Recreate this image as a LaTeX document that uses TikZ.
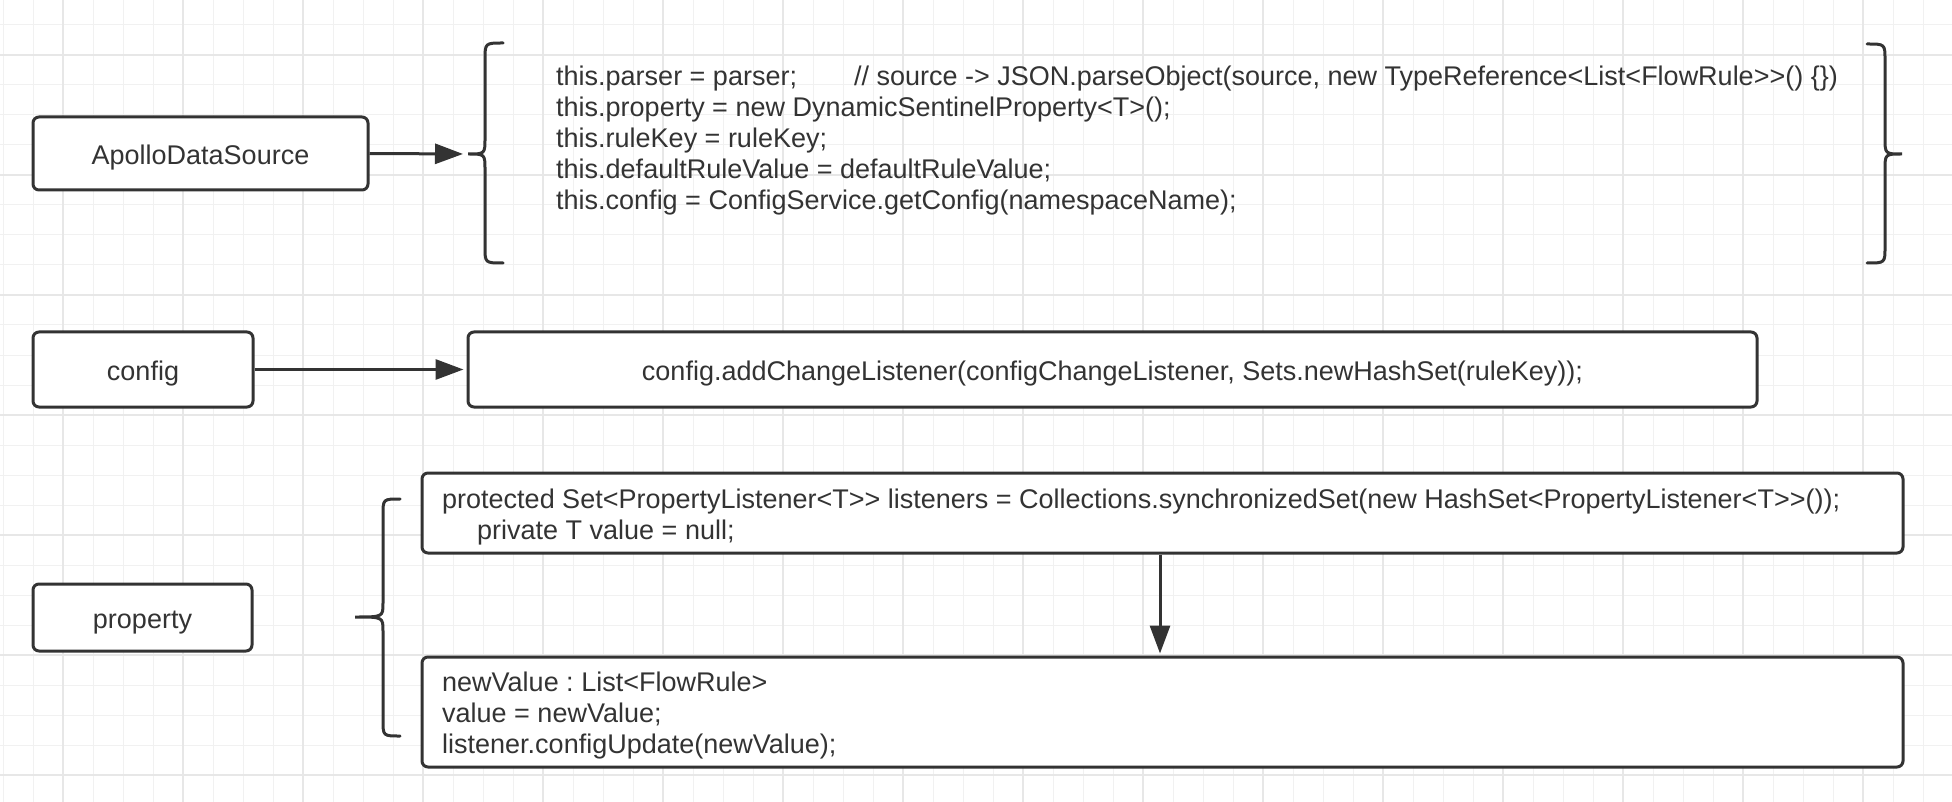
\documentclass[tikz,border=0pt]{standalone}
\usepackage{fontspec}
\setmainfont{Liberation Sans}
\usetikzlibrary{arrows.meta}
\definecolor{dark}{HTML}{333333}
\definecolor{gridminor}{HTML}{F1F1F1}
\definecolor{gridmajor}{HTML}{E7E7E7}
\newcommand{\gtgt}{>\kern0pt>}
\frenchspacing
\begin{document}
\begin{tikzpicture}[x=1pt,y=-1pt,
  minorline/.style={draw=gridminor,line width=1pt},
  majorline/.style={draw=gridmajor,line width=1.4pt},
  box/.style={draw=dark,line width=3pt,rounded corners=6pt,fill=white,inner sep=0pt,
    font=\fontsize{27}{31}\selectfont,text=dark,text height=27pt,text depth=5pt},
  codetext/.style={inner sep=0pt,align=left,font=\fontsize{27}{31}\selectfont,text=dark},
  bracepath/.style={draw=dark,line width=3pt,line cap=round},
  arr/.style={draw=dark,line width=3pt,-{Triangle[length=28pt,width=20pt]}}]
\useasboundingbox (0,0) rectangle (1952,802);
\fill[white] (0,0) rectangle (1952,802);
% grid
\foreach \i in {0,...,65} \draw[minorline] ({3+30*\i},0) -- ({3+30*\i},802);
\foreach \j in {0,...,26} \draw[minorline] (0,{25+30*\j}) -- (1952,{25+30*\j});
\foreach \i in {0,...,16} \draw[majorline] ({63+120*\i},0) -- ({63+120*\i},802);
\foreach \j in {0,...,6} \draw[majorline] (0,{55+120*\j}) -- (1952,{55+120*\j});

% row 1
\node[box,minimum width=335pt,minimum height=73pt] (ads) at (200.5,153.5) {ApolloDataSource};
\coordinate (b1tip) at (468,154);
\draw[bracepath] (503,43) .. controls (485,43) .. (485,60) -- (485,138)
  .. controls (485,154) .. (b1tip) .. controls (485,154) .. (485,170) -- (485,247)
  .. controls (485,263) .. (503,263);
\coordinate (b2tip) at (1902,154);
\draw[bracepath] (1867,44) .. controls (1885,44) .. (1885,60) -- (1885,138)
  .. controls (1885,154) .. (b2tip) .. controls (1885,154) .. (1885,170) -- (1885,247)
  .. controls (1885,263) .. (1867,263);
\node[codetext,anchor=west] (code) at (556,141) {%
\makebox[298pt][l]{this.parser = parser;}// source -> JSON.parseObject(source, new TypeReference<List<FlowRule\gtgt() \{\})\\
this.property = new DynamicSentinelProperty<T>();\\
this.ruleKey = ruleKey;\\
this.defaultRuleValue = defaultRuleValue;\\
this.config = ConfigService.getConfig(namespaceName);};
\draw[arr,shorten >=5pt] (ads.east) -- (b1tip);

% row 2
\node[box,minimum width=220pt,minimum height=75pt] (cfg) at (143,369.5) {config};
\node[box,minimum width=1289pt,minimum height=75pt] (cfgbox) at (1112.5,369.5)
  {config.addChangeListener(configChangeListener, Sets.newHashSet(ruleKey));};
\draw[arr,shorten >=3pt] (cfg.east) -- (cfgbox.west);

% row 3
\node[box,minimum width=219pt,minimum height=67pt] (prop) at (142.5,617.5) {property};
\coordinate (b3tip) at (355,617);
\draw[bracepath] (400,499) .. controls (383,499) .. (383,515) -- (383,603)
  .. controls (383,617) .. (b3tip) .. controls (383,617) .. (383,631) -- (383,720)
  .. controls (383,736) .. (400,736);
\node[box,minimum width=1481pt,minimum height=80pt] (ptop) at (1162.5,513) {};
\node[codetext,anchor=west] (ptoptext) at (442,517)
  {protected Set<PropertyListener<T\gtgt\ listeners = Collections.synchronizedSet(new HashSet<PropertyListener<T\gtgt());\\
  \hspace*{35pt}private T value = null;};
\node[box,minimum width=1481pt,minimum height=110pt] (pbot) at (1162.5,712) {};
\node[codetext,anchor=west] (pbottext) at (442,716)
  {newValue : List<FlowRule>\\
  value = newValue;\\
  listener.configUpdate(newValue);};
\coordinate (vx) at (1160,600);
\draw[arr,shorten >=2pt] (ptop.south -| vx) -- (pbot.north -| vx);
\end{tikzpicture}
\end{document}
